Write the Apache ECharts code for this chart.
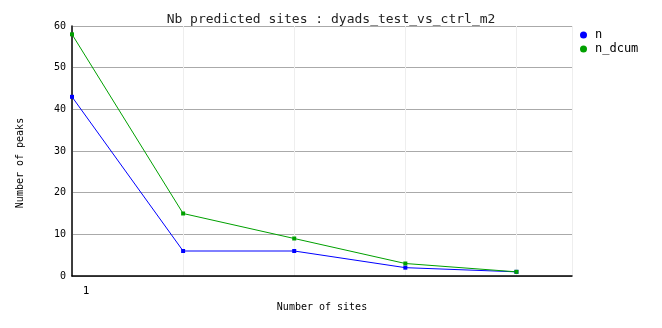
<!DOCTYPE html>
<html>
<head>
<meta charset="utf-8">
<script src="https://cdn.jsdelivr.net/npm/echarts@6/dist/echarts.min.js"></script>
<style>html,body{margin:0;padding:0;background:#fff}#c{width:662px;height:328px}</style>
</head>
<body>
<div id="c"></div>
<script>
var sites = [1, 2, 3, 4, 5];
var nValues = [43, 6, 6, 2, 1];
var nDcumValues = [58, 15, 9, 3, 1];
var yTicks = [0, 10, 20, 30, 40, 50, 60];
var xTickLabels = ['1'];

var font = 'DejaVu Sans Mono';
var chart = echarts.init(document.getElementById('c'), null, {renderer: 'canvas'});
function pairs(vals) { return sites.map(function (s, i) { return [s, vals[i]]; }); }
chart.setOption({
  animation: false,
  backgroundColor: '#ffffff',
  title: {
    text: 'Nb predicted sites : dyads_test_vs_ctrl_m2',
    left: 'center', top: 8,
    textStyle: {fontFamily: font, fontSize: 13, fontWeight: 'normal', color: '#222'}
  },
  legend: {
    orient: 'vertical', left: 575, top: 23, itemGap: 0,
    itemWidth: 7, itemHeight: 7, icon: 'circle',
    textStyle: {fontFamily: font, fontSize: 12, color: '#000', lineHeight: 14, padding: [0, 0, 0, 3]},
    data: ['n', 'n_dcum']
  },
  grid: {left: 72, right: 90, top: 26, bottom: 52, containLabel: false},
  xAxis: {
    type: 'value', min: 1, max: 5.5, interval: 1,
    name: 'Number of sites', nameLocation: 'middle', nameGap: 26,
    nameTextStyle: {fontFamily: font, fontSize: 10, color: '#000'},
    axisLine: {show: true, lineStyle: {color: '#000', width: 1.5}},
    axisTick: {show: false},
    axisLabel: {
      fontFamily: font, fontSize: 11, color: '#000', margin: 10, padding: [0, 0, 0, 28],
      formatter: function (v) { return v === 1 ? xTickLabels[0] : ''; }
    },
    splitLine: {show: true, lineStyle: {color: '#eeeeee', width: 1}}
  },
  yAxis: {
    type: 'value', min: yTicks[0], max: yTicks[yTicks.length - 1], interval: 10,
    name: 'Number of peaks', nameLocation: 'middle', nameGap: 47,
    nameTextStyle: {fontFamily: font, fontSize: 10, color: '#000', padding: [0, 24, 0, 0]},
    axisLine: {show: true, lineStyle: {color: '#000', width: 1.5}},
    axisTick: {show: false},
    axisLabel: {fontFamily: font, fontSize: 10, color: '#000', margin: 6},
    splitLine: {show: true, lineStyle: {color: '#aaaaaa', width: 1}}
  },
  series: [
    {
      name: 'n', type: 'line', data: pairs(nValues),
      symbol: 'rect', symbolSize: 4, showSymbol: true,
      itemStyle: {color: '#0000ff'}, lineStyle: {color: '#0000ff', width: 1}
    },
    {
      name: 'n_dcum', type: 'line', data: pairs(nDcumValues),
      symbol: 'rect', symbolSize: 4, showSymbol: true,
      itemStyle: {color: '#00a000'}, lineStyle: {color: '#00a000', width: 1}
    }
  ]
});
</script>
</body>
</html>
